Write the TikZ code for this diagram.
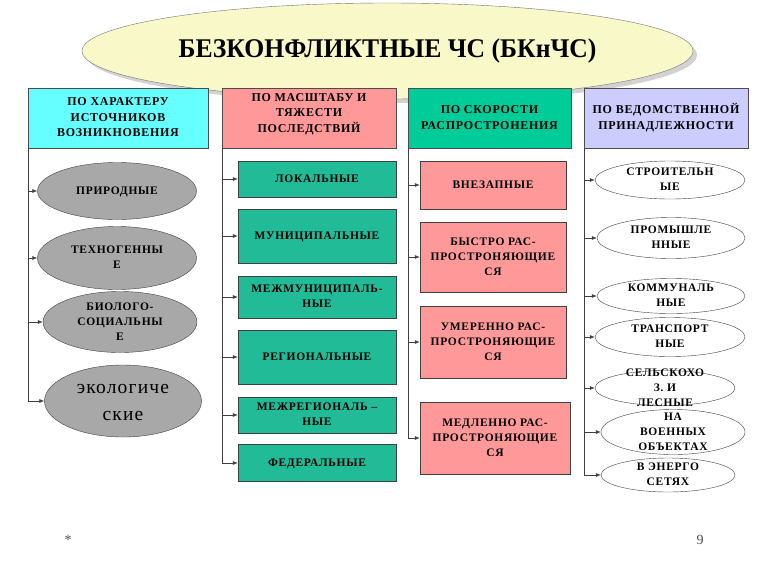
\documentclass[tikz,border=0pt]{standalone}
\usepackage{graphicx}
\usepackage{fontspec}
\setmainfont{Liberation Serif}[LetterSpace=6]
\newfontfamily\titlefont{Liberation Serif}
\usetikzlibrary{shapes.geometric, arrows.meta, shadows}

\definecolor{titlefill}{HTML}{F8F8C8}
\definecolor{headcyan}{HTML}{66FFFF}
\definecolor{headred}{HTML}{FF9999}
\definecolor{headgreen}{HTML}{00CC99}
\definecolor{headblue}{HTML}{CCCCFF}
\definecolor{boxgreen}{HTML}{22BB97}
\definecolor{boxred}{HTML}{FF9999}
\definecolor{ovalgrey}{HTML}{A8A8A8}

% text of fixed-size items, may run out of the shape
\newcommand{\lbl}[1]{\smash{\raisebox{-3.3pt}{\begin{tabular}{@{}c@{}}#1\end{tabular}}}}

\begin{document}
\begin{tikzpicture}[
      x=1pt, y=-1pt,
      title/.style = {shape=ellipse, draw=black!55, fill=titlefill,
        minimum width=611pt, minimum height=96pt, inner sep=0pt,
        drop shadow={shadow xshift=4pt, shadow yshift=-4pt, fill=black!35},
        font=\titlefont\fontsize{27}{30}\selectfont\bfseries
      },
      head/.style = {shape=rectangle, draw=black!70, minimum height=60pt,
        inner sep=0pt, font=\fontsize{12}{15.5}\selectfont\bfseries
      },
      item/.style = {inner sep=0pt, draw=black!75,
        font=\fontsize{11.5}{15}\selectfont\bfseries
      },
      greyoval/.style = {item, shape=ellipse, fill=ovalgrey},
      whiteoval/.style = {item, shape=ellipse, fill=white},
      greenbox/.style = {item, shape=rectangle, fill=boxgreen, minimum width=158pt},
      redbox/.style = {item, shape=rectangle, fill=boxred, minimum width=146pt},
      link/.style = {draw=black!75, line width=0.6pt, -{Latex[length=5pt,width=4pt]}}
    ]
    \useasboundingbox (0,0) rectangle (768,576);

    \node[title] (root) at (387.5,51) {\scalebox{0.95}[1]{БЕЗКОНФЛИКТНЫЕ ЧС (БКнЧС)}};

    % headers
    \node[head, fill=headcyan, minimum width=180pt] (h1) at (118,118)
      {\lbl{ПО ХАРАКТЕРУ\\ИСТОЧНИКОВ\\ВОЗНИКНОВЕНИЯ}};
    \node[head, fill=headred, minimum width=174pt] (h2) at (309,118)
      {\raisebox{9pt}{\lbl{ПО МАСШТАБУ И\\ТЯЖЕСТИ\\ПОСЛЕДСТВИЙ}}};
    \node[head, fill=headgreen, minimum width=163pt] (h3) at (489.5,118)
      {\lbl{ПО СКОРОСТИ\\РАСПРОСТРОНЕНИЯ}};
    \node[head, fill=headblue, minimum width=164pt] (h4) at (666,118)
      {\lbl{ПО ВЕДОМСТВЕННОЙ\\ПРИНАДЛЕЖНОСТИ}};

    % by source
    \node[greyoval, minimum width=159pt, minimum height=57pt] (a1) at (117,191)
      {\lbl{ПРИРОДНЫЕ}};
    \node[greyoval, minimum width=159pt, minimum height=63pt] (a2) at (117,258)
      {\lbl{ТЕХНОГЕННЫ\\Е}};
    \node[greyoval, minimum width=154pt, minimum height=61pt] (a3) at (120,322)
      {\lbl{БИОЛОГО-\\СОЦИАЛЬНЫ\\Е}};
    \node[greyoval, minimum width=157pt, minimum height=72pt,
      font=\fontsize{19.5}{27}\selectfont] (a4) at (123,401)
      {\raisebox{-5pt}{\lbl{экологиче\\ские}}};

    % by scale
    \node[greenbox, minimum height=36pt] (b1) at (317,179) {\lbl{ЛОКАЛЬНЫЕ}};
    \node[greenbox, minimum height=54pt] (b2) at (317,236) {\lbl{МУНИЦИПАЛЬНЫЕ}};
    \node[greenbox, minimum height=42pt] (b3) at (317,297) {\lbl{МЕЖМУНИЦИПАЛЬ-\\НЫЕ}};
    \node[greenbox, minimum height=54pt] (b4) at (317,357) {\lbl{РЕГИОНАЛЬНЫЕ}};
    \node[greenbox, minimum height=36pt] (b5) at (317,415) {\lbl{МЕЖРЕГИОНАЛЬ –\\НЫЕ}};
    \node[greenbox, minimum height=37pt] (b6) at (317,463) {\lbl{ФЕДЕРАЛЬНЫЕ}};

    % by speed
    \node[redbox, minimum height=48pt] (c1) at (493,185) {\lbl{ВНЕЗАПНЫЕ}};
    \node[redbox, minimum height=70pt] (c2) at (493,257)
      {\lbl{БЫСТРО РАС-\\ПРОСТРОНЯЮЩИЕ\\СЯ}};
    \node[redbox, minimum height=72pt] (c3) at (493,342)
      {\lbl{УМЕРЕННО РАС-\\ПРОСТРОНЯЮЩИЕ\\СЯ}};
    \node[redbox, minimum height=72pt, minimum width=150pt] (c4) at (495,438)
      {\lbl{МЕДЛЕННО РАС-\\ПРОСТРОНЯЮЩИЕ\\СЯ}};

    % by department
    \node[whiteoval, minimum width=150pt, minimum height=38pt] (d1) at (670,180)
      {\lbl{СТРОИТЕЛЬН\\ЫЕ}};
    \node[whiteoval, minimum width=148pt, minimum height=41pt] (d2) at (671,238)
      {\lbl{ПРОМЫШЛЕ\\ННЫЕ}};
    \node[whiteoval, minimum width=148pt, minimum height=35pt] (d3) at (671,296)
      {\lbl{КОММУНАЛЬ\\НЫЕ}};
    \node[whiteoval, minimum width=150pt, minimum height=39pt] (d4) at (670,337)
      {\lbl{ТРАНСПОРТ\\НЫЕ}};
    \node[whiteoval, minimum width=140pt, minimum height=35pt] (d5) at (665,388)
      {\lbl{СЕЛЬСКОХО\\З. И\\ЛЕСНЫЕ}};
    \node[whiteoval, minimum width=144pt, minimum height=45pt] (d6) at (673,432)
      {\lbl{НА\\ВОЕННЫХ\\ОБЪЕКТАХ}};
    \node[whiteoval, minimum width=134pt, minimum height=34pt] (d7) at (668,475)
      {\lbl{В ЭНЕРГО\\СЕТЯХ}};

    % connectors
    \foreach \n in {a1,a2,a3,a4}
      \draw[link] (h1.south west) |- (\n.west);
    \foreach \n in {b1,b2,b3,b4,b5,b6}
      \draw[link] (h2.south west) |- (\n.west);
    \foreach \n in {c1,c2,c3,c4}
      \draw[link] (h3.south west) |- (\n.west);
    \foreach \n in {d1,d2,d3,d4,d5,d6,d7}
      \draw[link] (h4.south west) |- (\n.west);

    \node[font=\fontsize{14}{16}\selectfont, text=black!70] (star) at (68,540) {*};
    \node[font=\fontsize{14}{16}\selectfont, text=black!70] (page) at (700,540) {9};
\end{tikzpicture}
\end{document}
